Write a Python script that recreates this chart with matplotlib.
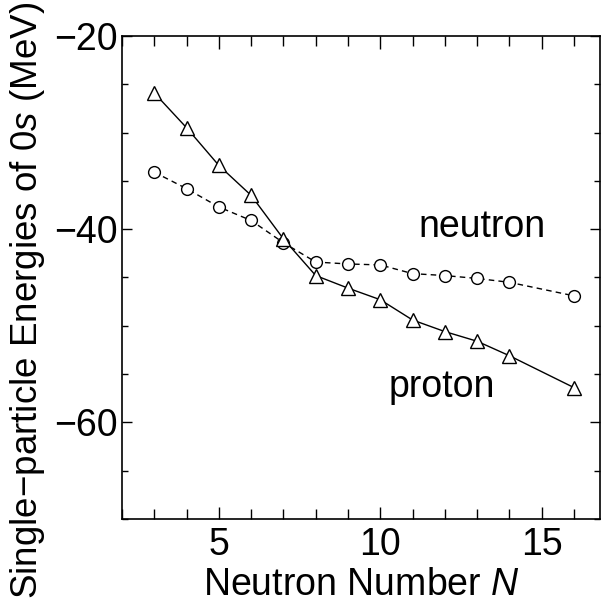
import numpy as np
import matplotlib
matplotlib.use("Agg")
import matplotlib.pyplot as plt
from matplotlib.ticker import MultipleLocator

plt.rcParams['font.family'] = ['Liberation Sans', 'DejaVu Sans']
plt.rcParams['mathtext.fontset'] = 'custom'
plt.rcParams['mathtext.rm'] = 'Liberation Sans'
plt.rcParams['mathtext.it'] = 'Liberation Sans:italic'

# data
N = [3, 4, 5, 6, 7, 8, 9, 10, 11, 12, 13, 14, 16]
proton = [-25.9, -29.5, -33.4, -36.5, -41.0, -44.8, -46.1, -47.3, -49.4, -50.6, -51.6, -53.1, -56.4]
neutron = [-34.1, -35.8, -37.7, -39.1, -41.4, -43.4, -43.6, -43.7, -44.6, -44.8, -45.1, -45.5, -46.9]

fig = plt.figure(figsize=(6.01, 6.06), dpi=100)
ax = fig.add_axes([0.203, 0.1436, 0.795, 0.797])

ax.plot(N, neutron, '--', color='black', lw=1.0, marker='o', ms=8.5,
        mfc='white', mec='black', mew=1.0, dashes=(4, 3))
ax.plot(N, proton, '-', color='black', lw=1.0, marker='^', ms=9.5,
        mfc='white', mec='black', mew=1.0)

ax.text(13.15, -39.8, 'neutron', fontsize=27, ha='center', va='center')
ax.text(11.9, -56.3, 'proton', fontsize=27, ha='center', va='center')

ax.set_xlim(2, 16.8)
ax.set_ylim(-70, -20)
ax.xaxis.set_major_locator(MultipleLocator(5))
ax.xaxis.set_minor_locator(MultipleLocator(1))
ax.yaxis.set_major_locator(MultipleLocator(20))
ax.yaxis.set_minor_locator(MultipleLocator(5))
ax.tick_params(which='both', direction='in', top=True, right=True, width=1.0, labelsize=27)
ax.tick_params(axis='x', which='major', length=9, pad=6)
ax.tick_params(axis='x', which='minor', length=7.5)
ax.tick_params(axis='y', which='major', length=7.5, pad=3)
ax.tick_params(axis='y', which='minor', length=4.5)
ax.set_yticks([-60, -40, -20])
ax.set_yticklabels(['−60', '−40', '−20'])
for s in ax.spines.values():
    s.set_linewidth(1.2)

ax.set_xlabel('Neutron Number $N$', fontsize=27, labelpad=3)
ax.set_ylabel('Single−particle Energies of 0$s$ (MeV)', fontsize=26.5, va='center')
ax.yaxis.set_label_coords(-0.197, 0.453)

fig.savefig('out.png', dpi=100)
